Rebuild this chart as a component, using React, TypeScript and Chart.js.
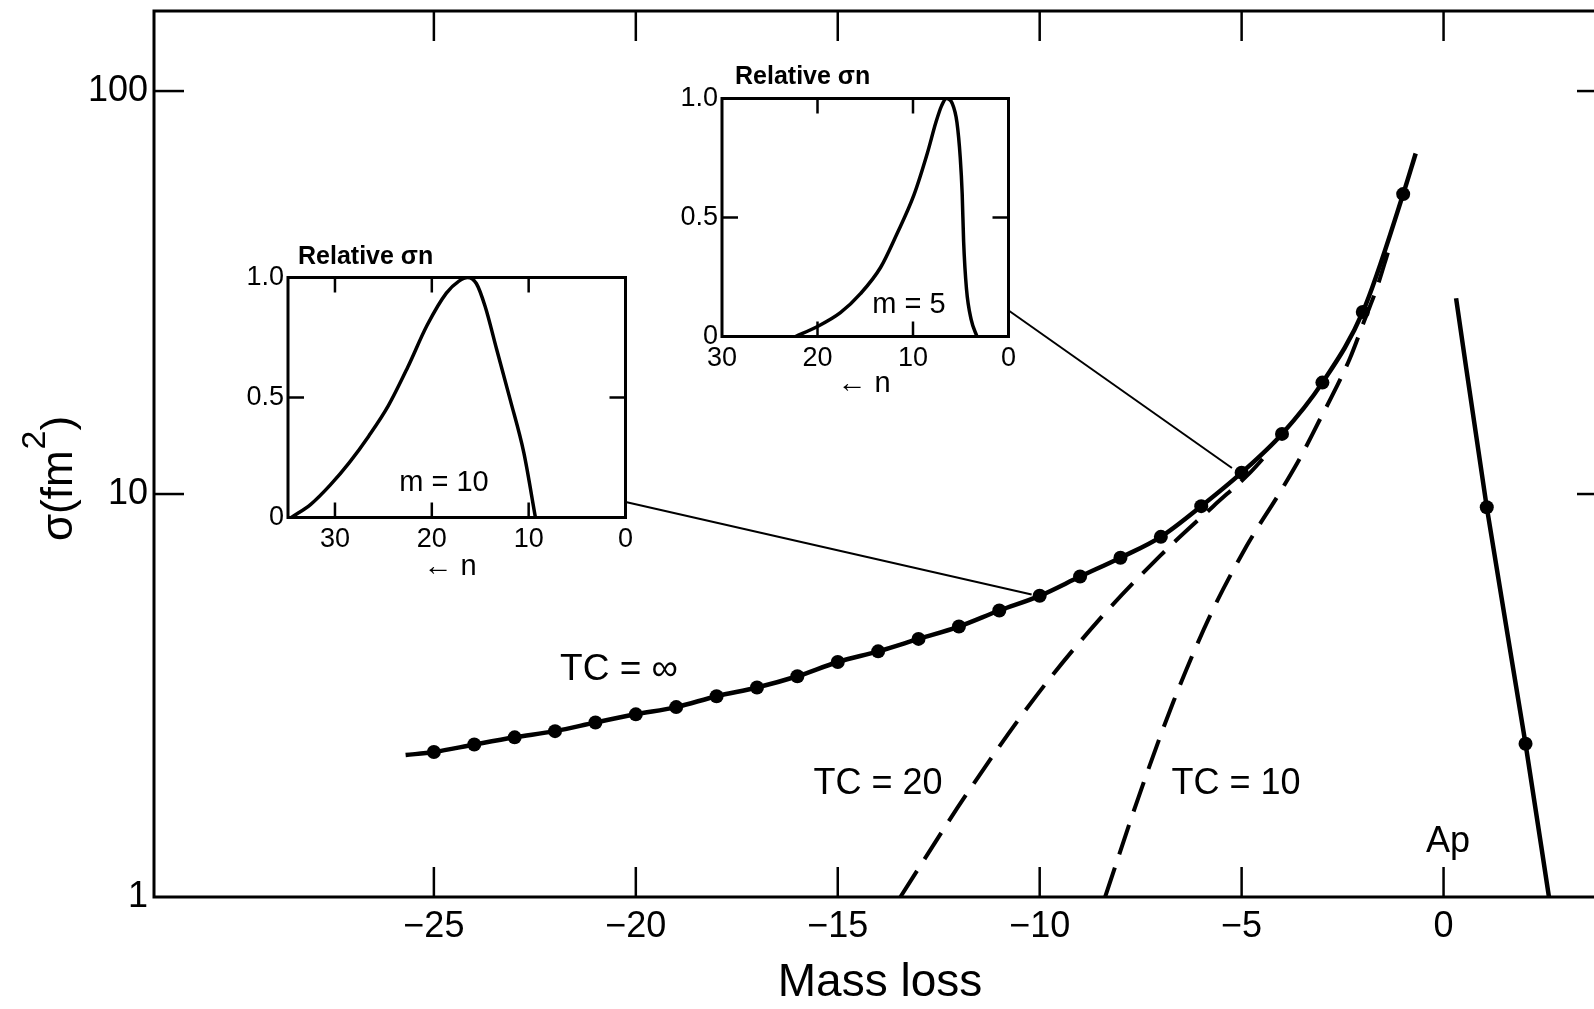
import React, { useEffect, useRef } from "react";
import { Chart, registerables } from "chart.js";

Chart.register(...registerables);

const FONT = '"Liberation Sans", Arial, Helvetica, sans-serif';

// ---------- main chart data ----------
const massLossTicks = [-25, -20, -15, -10, -5, 0];
const massLossTickLabels = ["\u221225", "\u221220", "\u221215", "\u221210", "\u22125", "0"];
const sigmaTicks = [1, 10, 100];
const sigmaTickLabels = ["1", "10", "100"];

const tcInfMassLoss = [-25.7, -25, -24, -23, -22, -21, -20, -19, -18, -17, -16, -15, -14, -13, -12, -11, -10, -9, -8, -7, -6, -5, -4, -3, -2, -1, -0.69];
const tcInfSigma = [2.25, 2.29, 2.39, 2.49, 2.58, 2.71, 2.84, 2.96, 3.15, 3.31, 3.53, 3.83, 4.07, 4.37, 4.69, 5.14, 5.59, 6.24, 6.95, 7.83, 9.33, 11.3, 14.1, 18.9, 28.3, 55.5, 70];

const tc20MassLoss = [-13.45, -11.81, -10.07, -8.51, -7.02, -5.7, -4.79, -4.3];
const tc20Sigma = [1.0, 1.8, 3.17, 4.9, 7.02, 9.33, 11.3, 12.8];

const tc10MassLoss = [-8.38, -7.56, -6.69, -5.78, -4.87, -4.05, -3.55, -3.1, -2.69, -2.32, -1.94, -1.65, -1.37];
const tc10Sigma = [1.0, 1.76, 3.05, 4.99, 7.45, 10.1, 12.3, 15.05, 18.1, 21.7, 27.3, 32.5, 40.0];

const apMassLoss = [0.31, 1.07, 2.03, 2.61];
const apSigma = [30.6, 9.27, 2.4, 1.0];

const link10MassLoss = [-20.25, -10.2];
const link10Sigma = [9.56, 5.63];
const link5MassLoss = [-10.76, -5.24];
const link5Sigma = [28.5, 11.6];

// ---------- inset data ----------
const insetNTicks = [30, 20, 10, 0];
const insetNTickLabels = ["30", "20", "10", "0"];
const insetRelTicks = [0, 0.5, 1];
const insetRelTickLabels = ["0", "0.5", "1.0"];

const m10N = [34.5, 32.5, 30.5, 28.5, 26.5, 24.5, 22.5, 20.5, 18.5, 17.2, 16.3, 15.4, 14.5, 13.3, 11.9, 10.5, 9.3];
const m10Rel = [0, 0.055, 0.135, 0.23, 0.34, 0.465, 0.625, 0.8, 0.935, 0.985, 1.0, 0.975, 0.88, 0.7, 0.49, 0.27, 0];

const m5N = [22.3, 20.1, 17.6, 15.5, 13.4, 11.7, 9.9, 8.5, 7.6, 7.0, 6.5, 5.9, 5.4, 5.05, 4.85, 4.7, 4.4, 3.9, 3.3];
const m5Rel = [0, 0.04, 0.1, 0.18, 0.29, 0.43, 0.595, 0.77, 0.9, 0.97, 1.0, 0.98, 0.9, 0.75, 0.6, 0.4, 0.2, 0.07, 0];

function pts(xs: number[], ys: number[]) {
  return xs.map((x, i) => ({ x, y: ys[i] }));
}

const noEnds = (n: number, r: number) => (c: any) =>
  c.dataIndex === 0 || c.dataIndex === n - 1 ? 0 : r;

function drawText(ctx: CanvasRenderingContext2D, s: string, x: number, y: number, size: number, weight = "normal", align: CanvasTextAlign = "center") {
  ctx.font = `${weight} ${size}px ${FONT}`;
  ctx.textAlign = align;
  ctx.textBaseline = "middle";
  ctx.fillStyle = "#000";
  ctx.fillText(s, x, y);
}

function seg(ctx: CanvasRenderingContext2D, x1: number, y1: number, x2: number, y2: number) {
  ctx.beginPath();
  ctx.moveTo(x1, y1);
  ctx.lineTo(x2, y2);
  ctx.stroke();
}

const mainDecor = {
  id: "mainDecor",
  afterDraw(chart: any) {
    const { ctx, chartArea: a, scales } = chart;
    const xs = scales.x;
    const ys = scales.y;
    ctx.save();
    ctx.strokeStyle = "#000";
    ctx.lineWidth = 3;
    ctx.lineCap = "butt";
    ctx.beginPath();
    ctx.moveTo(a.right + 2, a.top);
    ctx.lineTo(a.left, a.top);
    ctx.lineTo(a.left, a.bottom);
    ctx.lineTo(a.right + 2, a.bottom);
    ctx.stroke();
    ctx.lineWidth = 2.5;
    massLossTicks.forEach((v) => {
      const px = xs.getPixelForValue(v);
      seg(ctx, px, a.bottom, px, a.bottom - 30);
      seg(ctx, px, a.top, px, a.top + 30);
    });
    sigmaTicks
      .filter((v) => v > 1)
      .forEach((v) => {
        const py = ys.getPixelForValue(v);
        seg(ctx, a.left, py, a.left + 30, py);
        seg(ctx, a.right, py, a.right - 17, py);
      });

    // annotations
    drawText(ctx, "TC = \u221e", 619, 670, 37);
    drawText(ctx, "TC = 20", 878, 784, 36);
    drawText(ctx, "TC = 10", 1236, 784, 36);
    drawText(ctx, "Ap", 1448, 842, 36);
    drawText(ctx, "Mass loss", 880, 983, 46);

    // y title with superscript
    ctx.save();
    ctx.translate(72, 479);
    ctx.rotate(-Math.PI / 2);
    ctx.fillStyle = "#000";
    ctx.textBaseline = "alphabetic";
    ctx.textAlign = "left";
    const big = `44px ${FONT}`;
    const small = `34px ${FONT}`;
    ctx.font = big;
    const wa = ctx.measureText("\u03c3(fm").width;
    const wc = ctx.measureText(")").width;
    ctx.font = small;
    const wb = ctx.measureText("2").width;
    const x0 = -(wa + wb + wc) / 2;
    ctx.font = big;
    ctx.fillText("\u03c3(fm", x0, 0);
    ctx.font = small;
    ctx.fillText("2", x0 + wa + 1, -27);
    ctx.font = big;
    ctx.fillText(")", x0 + wa + wb + 1, 0);
    ctx.restore();

    ctx.restore();
  },
};

const insetDecor = {
  id: "insetDecor",
  afterDraw(chart: any) {
    const o = chart.options.plugins.insetDecor;
    const { ctx, chartArea: a, scales } = chart;
    ctx.save();
    ctx.strokeStyle = "#000";
    ctx.lineWidth = 3;
    ctx.strokeRect(a.left, a.top, a.right - a.left, a.bottom - a.top);
    ctx.lineWidth = 2.5;
    insetNTicks.forEach((v) => {
      const px = scales.x.getPixelForValue(v);
      if (px < a.left + 3 || px > a.right - 3) return;
      seg(ctx, px, a.bottom, px, a.bottom - 15);
      seg(ctx, px, a.top, px, a.top + 15);
    });
    const py = scales.y.getPixelForValue(0.5);
    seg(ctx, a.left, py, a.left + 16, py);
    seg(ctx, a.right, py, a.right - 16, py);
    drawText(ctx, "Relative \u03c3n", o.titleX, o.titleY, 25, "bold", "left");
    drawText(ctx, o.mText, o.mX, o.mY, 29);
    drawText(ctx, "\u2190 n", o.arrowX, o.arrowY, 29);
    ctx.restore();
  },
};

function makeInset(canvas: HTMLCanvasElement, cfg: any) {
  return new Chart(canvas, {
    type: "scatter",
    data: {
      datasets: [
        {
          data: pts(cfg.n, cfg.rel),
          showLine: true,
          borderColor: "#000",
          borderWidth: 3.5,
          pointRadius: 0,
          cubicInterpolationMode: "monotone",
        } as any,
      ],
    },
    options: {
      animation: false,
      responsive: false,
      events: [],
      layout: { autoPadding: false, padding: { top: cfg.padTop, right: cfg.padRight, left: 0, bottom: 0 } } as any,
      plugins: {
        legend: { display: false },
        tooltip: { enabled: false },
        insetDecor: cfg.decor,
      } as any,
      scales: {
        x: {
          type: "linear",
          reverse: true,
          min: 0,
          max: cfg.nMax,
          afterBuildTicks: (s: any) => {
            s.ticks = insetNTicks.map((v) => ({ value: v }));
          },
          afterFit: (s: any) => {
            s.height = cfg.xHeight;
            s.paddingLeft = 0;
            s.paddingRight = 0;
          },
          grid: { display: false, drawTicks: false },
          border: { display: false },
          ticks: {
            autoSkip: false,
            maxRotation: 0,
            padding: 6,
            color: "#000",
            font: { size: 27, family: FONT },
            callback: (v: any) => insetNTickLabels[insetNTicks.indexOf(Number(v))] ?? "",
          },
        },
        y: {
          type: "linear",
          min: 0,
          max: 1,
          afterBuildTicks: (s: any) => {
            s.ticks = insetRelTicks.map((v) => ({ value: v }));
          },
          afterFit: (s: any) => {
            s.width = cfg.yWidth;
            s.paddingTop = 0;
            s.paddingBottom = 0;
          },
          grid: { display: false, drawTicks: false },
          border: { display: false },
          ticks: {
            autoSkip: false,
            padding: 4,
            color: "#000",
            font: { size: 27, family: FONT },
            callback: (v: any) => insetRelTickLabels[insetRelTicks.indexOf(Number(v))] ?? "",
          },
        },
      },
    } as any,
    plugins: [insetDecor],
  });
}

export default function App() {
  const mainRef = useRef<HTMLCanvasElement>(null);
  const in10Ref = useRef<HTMLCanvasElement>(null);
  const in5Ref = useRef<HTMLCanvasElement>(null);

  useEffect(() => {
    Chart.defaults.font.family = FONT;
    Chart.defaults.color = "#000";

    const main = new Chart(mainRef.current!, {
      type: "scatter",
      data: {
        datasets: [
          {
            label: "TC = \u221e",
            data: pts(tcInfMassLoss, tcInfSigma),
            showLine: true,
            borderColor: "#000",
            backgroundColor: "#000",
            borderWidth: 4.5,
            pointRadius: noEnds(tcInfMassLoss.length, 7),
            pointBorderWidth: 0,
            cubicInterpolationMode: "monotone",
          },
          {
            label: "Ap",
            data: pts(apMassLoss, apSigma),
            showLine: true,
            borderColor: "#000",
            backgroundColor: "#000",
            borderWidth: 4.5,
            pointRadius: noEnds(apMassLoss.length, 7),
            pointBorderWidth: 0,
            cubicInterpolationMode: "monotone",
          },
          {
            label: "TC = 20",
            data: pts(tc20MassLoss, tc20Sigma),
            showLine: true,
            borderColor: "#000",
            borderWidth: 4,
            borderDash: [31, 14],
            pointRadius: 0,
            cubicInterpolationMode: "monotone",
          },
          {
            label: "TC = 10",
            data: pts(tc10MassLoss, tc10Sigma),
            showLine: true,
            borderColor: "#000",
            borderWidth: 4,
            borderDash: [31, 14],
            pointRadius: 0,
            cubicInterpolationMode: "monotone",
          },
          {
            label: "link m=10",
            data: pts(link10MassLoss, link10Sigma),
            showLine: true,
            borderColor: "#000",
            borderWidth: 2,
            pointRadius: 0,
          },
          {
            label: "link m=5",
            data: pts(link5MassLoss, link5Sigma),
            showLine: true,
            borderColor: "#000",
            borderWidth: 2,
            pointRadius: 0,
          },
        ] as any,
      },
      options: {
        animation: false,
        responsive: false,
        events: [],
        layout: { autoPadding: false, padding: { top: 11, right: 0, left: 0, bottom: 0 } } as any,
        plugins: { legend: { display: false }, tooltip: { enabled: false } },
        scales: {
          x: {
            type: "linear",
            min: -31.93,
            max: 3.725,
            afterBuildTicks: (s: any) => {
              s.ticks = massLossTicks.map((v) => ({ value: v }));
            },
            afterFit: (s: any) => {
              s.height = 112;
              s.paddingLeft = 0;
              s.paddingRight = 0;
            },
            grid: { display: false, drawTicks: false },
            border: { display: false },
            ticks: {
              autoSkip: false,
              maxRotation: 0,
              padding: 8,
              color: "#000",
              font: { size: 36, family: FONT },
              callback: (v: any) => massLossTickLabels[massLossTicks.indexOf(Number(v))] ?? "",
            },
          },
          y: {
            type: "logarithmic",
            min: 1,
            max: 158,
            afterBuildTicks: (s: any) => {
              s.ticks = sigmaTicks.map((v) => ({ value: v }));
            },
            afterFit: (s: any) => {
              s.width = 154;
              s.paddingTop = 0;
              s.paddingBottom = 0;
            },
            grid: { display: false, drawTicks: false },
            border: { display: false },
            ticks: {
              autoSkip: false,
              padding: 6,
              color: "#000",
              font: { size: 36, family: FONT },
              callback: (v: any) => sigmaTickLabels[sigmaTicks.indexOf(Number(v))] ?? "",
            },
          },
        },
      } as any,
      plugins: [mainDecor],
    });

    const inset10 = makeInset(in10Ref.current!, {
      n: m10N,
      rel: m10Rel,
      nMax: 34.85,
      padTop: 45.5,
      padRight: 14.5,
      xHeight: 64.5,
      yWidth: 60,
      decor: { titleX: 70, titleY: 25, mText: "m = 10", mX: 216, mY: 251, arrowX: 222, arrowY: 335 },
    });

    const inset5 = makeInset(in5Ref.current!, {
      n: m5N,
      rel: m5Rel,
      nMax: 30,
      padTop: 42.5,
      padRight: 11.5,
      xHeight: 63.5,
      yWidth: 62,
      decor: { titleX: 75, titleY: 21, mText: "m = 5", mX: 249, mY: 249, arrowX: 204, arrowY: 328 },
    });

    return () => {
      main.destroy();
      inset10.destroy();
      inset5.destroy();
    };
  }, []);

  return (
    <div
      style={{
        position: "fixed",
        left: 0,
        top: 0,
        width: 1594,
        height: 1009,
        background: "#fff",
        overflow: "hidden",
      }}
    >
      <canvas ref={mainRef} width={1594} height={1009} style={{ position: "absolute", left: 0, top: 0, display: "block" }} />
      <canvas ref={in10Ref} width={412} height={350} style={{ position: "absolute", left: 228, top: 232, display: "block" }} />
      <canvas ref={in5Ref} width={360} height={344} style={{ position: "absolute", left: 660, top: 56, display: "block" }} />
    </div>
  );
}
